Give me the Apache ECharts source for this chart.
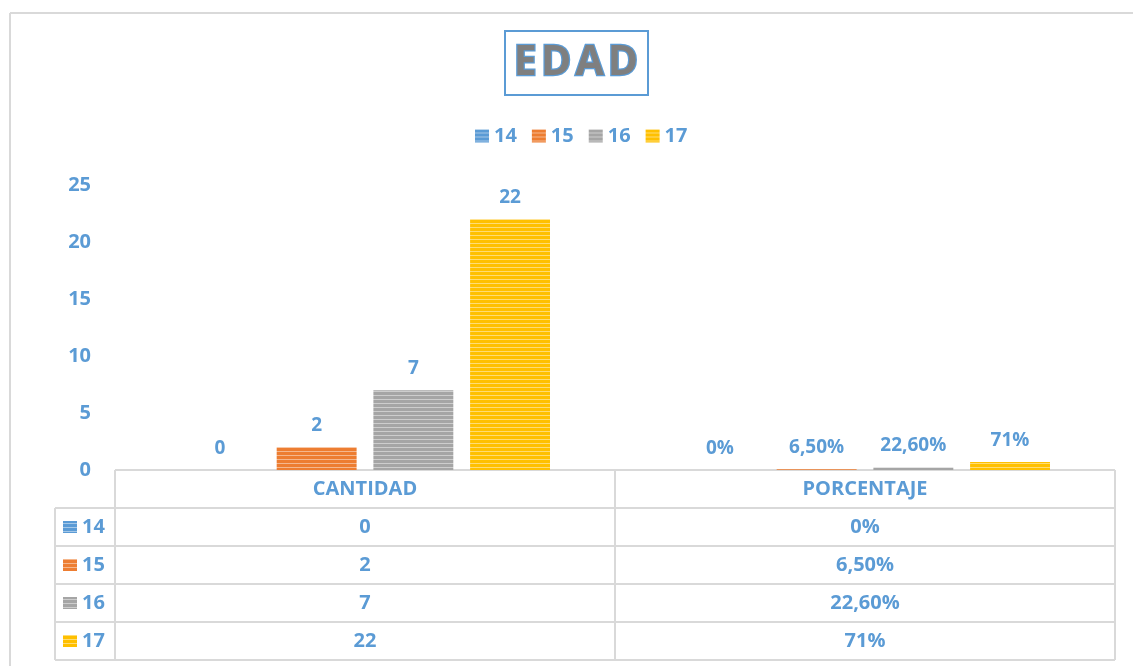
<!DOCTYPE html>
<html>
<head>
<meta charset="utf-8">
<script src="https://cdn.jsdelivr.net/npm/echarts@6/dist/echarts.min.js"></script>
<style>
    html, body { margin: 0; padding: 0; background: #fff; }
    #edad-chart { width: 1133px; height: 666px; }
</style>
</head>
<body>
<div id="edad-chart"></div>
<script>
var categorias = ['CANTIDAD', 'PORCENTAJE'];
var edades = ['14', '15', '16', '17'];
var cantidad = [0, 2, 7, 22];
var porcentaje = [0, 0.065, 0.226, 0.71];
var porcentajeTexto = ['0%', '6,50%', '22,60%', '71%'];
var colores = ['#5B9BD5', '#ED7D31', '#A5A5A5', '#FFC000'];

var azul = '#5B9BD5';
var linea = '#d9d9d9';
var fuente = '"Open Sans", Lato, sans-serif';

// layout of plot + table
var gLeft = 115, gRight = 1115, gTop = 185, gBottom = 470;
var rowH = 38, colLeft = 55;

// horizontal stripe fill like the excel pattern
function rayas(c) {
    var cv = document.createElement('canvas');
    cv.width = 4;
    cv.height = 4;
    var ctx = cv.getContext('2d');
    ctx.fillStyle = c;
    ctx.fillRect(0, 0, 4, 4);
    ctx.fillStyle = 'rgba(255,255,255,0.45)';
    ctx.fillRect(0, 3, 4, 1);
    return { image: cv, repeat: 'repeat' };
}

function tabla() {
    var els = [];
    var nFilas = edades.length;
    var yFin = gBottom + rowH * (nFilas + 1);
    var mid = (gLeft + gRight) / 2;
    var lw = 2;

    // header row
    els.push({ type: 'line', shape: { x1: gLeft, y1: gBottom, x2: gRight, y2: gBottom }, style: { stroke: linea, lineWidth: lw } });
    els.push({ type: 'line', shape: { x1: gLeft, y1: gBottom, x2: gLeft, y2: yFin }, style: { stroke: linea, lineWidth: lw } });
    els.push({ type: 'line', shape: { x1: gRight, y1: gBottom, x2: gRight, y2: yFin }, style: { stroke: linea, lineWidth: lw } });
    els.push({ type: 'line', shape: { x1: mid, y1: gBottom, x2: mid, y2: yFin }, style: { stroke: linea, lineWidth: lw } });
    els.push({ type: 'line', shape: { x1: colLeft, y1: gBottom + rowH, x2: colLeft, y2: yFin }, style: { stroke: linea, lineWidth: lw } });

    categorias.forEach(function (c, j) {
        els.push({
            type: 'text', x: gLeft + (j + 0.5) * (gRight - gLeft) / 2, y: gBottom + rowH / 2,
            style: { text: c, fill: azul, font: 'bold 20px ' + fuente, align: 'center', verticalAlign: 'middle' }
        });
    });

    for (var i = 0; i < nFilas; i++) {
        var y0 = gBottom + rowH * (i + 1);
        els.push({ type: 'line', shape: { x1: colLeft, y1: y0, x2: gRight, y2: y0 }, style: { stroke: linea, lineWidth: lw } });
        els.push({ type: 'rect', shape: { x: colLeft + 8, y: y0 + rowH / 2 - 6, width: 14, height: 12 }, style: { fill: rayas(colores[i]) } });
        els.push({
            type: 'text', x: colLeft + 27, y: y0 + rowH / 2,
            style: { text: edades[i], fill: azul, font: 'bold 20px ' + fuente, align: 'left', verticalAlign: 'middle' }
        });
        var vals = [String(cantidad[i]), porcentajeTexto[i]];
        vals.forEach(function (v, j) {
            els.push({
                type: 'text', x: gLeft + (j + 0.5) * (gRight - gLeft) / 2, y: y0 + rowH / 2,
                style: { text: v, fill: azul, font: 'bold 20px ' + fuente, align: 'center', verticalAlign: 'middle' }
            });
        });
    }
    els.push({ type: 'line', shape: { x1: colLeft, y1: yFin, x2: gRight, y2: yFin }, style: { stroke: linea, lineWidth: lw } });
    return els;
}

function edadChart() {
    "use strict";
    var chart = echarts.init(document.getElementById('edad-chart'));

    var series = edades.map(function (e, i) {
        return {
            name: e,
            type: 'bar',
            barGap: '21%',
            barCategoryGap: '26%',
            itemStyle: { color: rayas(colores[i]) },
            label: {
                show: true,
                position: 'top',
                distance: 12,
                color: azul,
                fontFamily: fuente,
                fontWeight: 'bold',
                fontSize: 19,
                formatter: function (p) {
                    return p.dataIndex === 0 ? String(cantidad[i]) : porcentajeTexto[i];
                }
            },
            data: [cantidad[i], porcentaje[i]]
        };
    });

    var option = {
        animation: false,
        backgroundColor: '#fff',
        grid: { left: gLeft, right: 1133 - gRight, top: gTop, bottom: 666 - gBottom },
        legend: {
            data: edades,
            icon: 'rect',
            left: 470,
            top: 121,
            itemWidth: 14,
            itemHeight: 13,
            itemGap: 15,
            textStyle: { color: azul, fontFamily: fuente, fontWeight: 'bold', fontSize: 20 }
        },
        xAxis: {
            type: 'category',
            data: categorias,
            axisLine: { show: false },
            axisTick: { show: false },
            axisLabel: { show: false }
        },
        yAxis: {
            type: 'value',
            min: 0,
            max: 25,
            interval: 5,
            axisLine: { show: false },
            axisTick: { show: false },
            splitLine: { show: false },
            axisLabel: { color: azul, fontFamily: fuente, fontWeight: 'bold', fontSize: 20, margin: 24 }
        },
        graphic: [
            // chart frame (only top/left visible)
            { type: 'line', shape: { x1: 10, y1: 13, x2: 1133, y2: 13 }, style: { stroke: linea, lineWidth: 2 } },
            { type: 'line', shape: { x1: 10, y1: 13, x2: 10, y2: 666 }, style: { stroke: linea, lineWidth: 2 } },
            // title box
            { type: 'rect', shape: { x: 505, y: 31, width: 143, height: 64 }, style: { fill: 'none', stroke: azul, lineWidth: 2 } },
            {
                type: 'text', x: 576, y: 63,
                style: {
                    text: 'E\u200AD\u200AA\u200AD', fill: '#7f7f7f', stroke: azul, lineWidth: 2.5,
                    font: 'bold 41px ' + fuente, align: 'center', verticalAlign: 'middle'
                }
            }
        ].concat(tabla()),
        series: series
    };

    chart.setOption(option);
}

edadChart();
</script>
</body>
</html>
